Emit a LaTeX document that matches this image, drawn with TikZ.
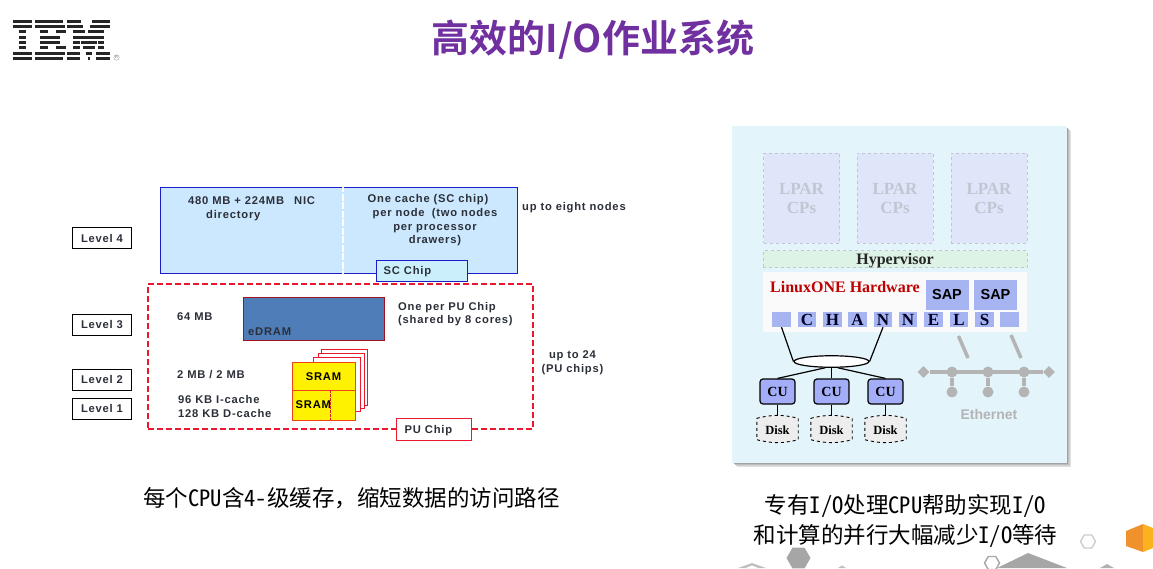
\documentclass[tikz,border=0pt]{standalone}
\usepackage{fontspec}
\setmainfont{Liberation Sans}
\newfontfamily\lblfont[LetterSpace=7]{Liberation Sans}
\newfontfamily\cjk[RawFeature=+hwid]{Noto Sans CJK SC}
\newfontfamily\cjkfull{Noto Sans CJK SC}
\newfontfamily\cjktitle[BoldFont={Noto Sans CJK SC Bold}]{Noto Sans CJK SC}
\newfontfamily\serifb{Liberation Serif}
\usetikzlibrary{shapes.geometric}
\definecolor{titlepurple}{HTML}{7030A0}
\definecolor{inktext}{HTML}{2B2F38}
\definecolor{nodeblue}{HTML}{CCE8FF}
\definecolor{nodeedge}{HTML}{1C1CC8}
\definecolor{chipred}{HTML}{E8192C}
\definecolor{edram}{HTML}{4F7DB8}
\definecolor{panelblue}{HTML}{E3F4FB}
\definecolor{lparfill}{HTML}{E0E6FA}
\definecolor{lpargray}{HTML}{C2C6D2}
\definecolor{hvfill}{HTML}{DDF3E6}
\definecolor{cellblue}{HTML}{A6B4F2}
\definecolor{cufill}{HTML}{A3ADF8}
\definecolor{ethgray}{HTML}{B4B4B4}
\definecolor{hexorange}{HTML}{F0922B}
\definecolor{hexamber}{HTML}{FBB21F}
\tikzset{
  px/.style={x=1pt,y=-1pt},
  lbl/.style={font=\lblfont\fontsize{11.2}{13.6}\selectfont\bfseries,text=inktext,inner sep=0pt},
  tagtext/.style={font=\lblfont\fontsize{11.2}{13.6}\selectfont\bfseries,text=inktext,inner sep=0pt,text height=8pt,text depth=0pt},
  levelbox/.style={tagtext,draw=black,line width=0.7pt,fill=white,minimum width=59pt,minimum height=21pt},
  lparbox/.style={draw=lpargray,dashed,fill=lparfill,line width=0.8pt,minimum width=76pt,minimum height=90pt,inner sep=0pt,align=center,text=lpargray,font=\serifb\fontsize{17}{19}\selectfont\bfseries},
  cell/.style={fill=cellblue,minimum width=18.5pt,minimum height=15pt,inner sep=0pt,font=\serifb\fontsize{17}{17}\selectfont\bfseries,text=black!85!blue},
  sapbox/.style={fill=cellblue,minimum width=43pt,minimum height=30pt,inner sep=0pt,font=\fontsize{14.5}{15}\selectfont\bfseries,text=black},
  cubox/.style={draw=black,line width=1.2pt,rounded corners=3pt,fill=cufill,minimum width=35pt,minimum height=25pt,inner sep=0pt,font=\serifb\fontsize{14}{14}\selectfont\bfseries},
  diskframe/.style={minimum width=41pt,minimum height=21pt,inner sep=0pt},
  disktext/.style={inner sep=0pt,font=\serifb\fontsize{12.5}{12.5}\selectfont\bfseries},
  diskedge/.style={draw=black,dashed,line width=0.9pt,fill=black!7},
  busline/.style={draw=black,line width=1.2pt},
  ethline/.style={draw=ethgray,line width=3.3pt},
  ethdiamond/.style={diamond,fill=ethgray,minimum size=12pt,inner sep=0pt},
  ethdot/.style={circle,fill=ethgray,minimum size=11pt,inner sep=0pt},
  caption/.style={font=\cjk\fontsize{22.5}{30}\selectfont,text=black,align=center,inner sep=0pt},
  sramedge/.style={draw=chipred,line width=0.7pt,fill=white,inner sep=0pt},
  hexa/.style={regular polygon,regular polygon sides=6,inner sep=0pt},
}
\begin{document}
\begin{tikzpicture}[px]
\useasboundingbox (0,0) rectangle (1153,568);

% logo: eight horizontal bars cut into letter segments
\def\barrow#1#2{\foreach \a/\b in {#2}{\fill[black!85] (\a,{21+5.35*#1-1.5}) rectangle (\b,{21+5.35*#1+1.5});}}
\barrow{0}{13/32,35/63,67/81,92/110}
\barrow{1}{13/32,35/65,67/83,90/110}
\barrow{2}{19/26,40/48,56/66,73/85,88/104}
\barrow{3}{19/26,40/60,73/104}
\barrow{4}{19/26,40/60,73/80,81/97,98/104}
\barrow{5}{19/26,40/48,56/66,73/80,83/95,98/104}
\barrow{6}{13/32,35/65,67/80,86/92,96/110}
\barrow{7}{13/32,35/63,67/80,88/90,96/110}
\node[draw=black!45,circle,line width=0.3pt,inner sep=0pt,minimum size=5.5pt,font=\fontsize{4}{4}\selectfont,text=black!60] (reg) at (116.5,57.5) {R};

% heading
\node[inner sep=0pt,text=titlepurple,font=\cjktitle\fontsize{38}{42}\selectfont\bfseries] (title) at (593,40) {高效的I/O作业系统};

% cache hierarchy: level 4 node cache
\node[draw=nodeedge,line width=0.9pt,fill=nodeblue,minimum width=357pt,minimum height=86pt,inner sep=0pt] (l4) at (338.5,230) {};
\coordinate (gapT) at (343,185);
\coordinate (gapB) at (343,275);
\draw[white,line width=2.2pt,dash pattern=on 7pt off 1.5pt] (gapT) -- (gapB);
\node[lbl,align=left,anchor=north west] (dir) at (188,196.5) {480 MB + 224MB\hspace{0.9em}NIC\\\hspace*{18pt}directory};
\node[lbl,align=center,anchor=north] (sccache) at (435,194.5) {One cache (SC chip)\hspace*{14pt}\\per node\hspace{0.3em} (two nodes\\per processor\\drawers)};
\node[tagtext,draw=nodeedge,line width=0.9pt,fill=cyan!20,minimum width=91pt,minimum height=21pt] (sc) at (422,270.5) {\hspace{-2.6em}SC Chip};
\node[lbl,anchor=west] (eight) at (522,207.5) {up to eight nodes};

% processor chip group
\node[draw=chipred,dashed,line width=1.1pt,dash pattern=on 6pt off 3pt,minimum width=385pt,minimum height=145pt,inner sep=0pt] (pu) at (340.5,356.5) {};
\node[tagtext,draw=chipred,line width=0.9pt,fill=white,minimum width=75pt,minimum height=22pt] (puchip) at (433.5,429) {\hspace{-0.9em}PU Chip};
\node[draw=chipred!70!black,line width=0.9pt,fill=edram,minimum width=141pt,minimum height=43pt,inner sep=0pt] (ed) at (313.5,318.5) {};
\node[lbl,anchor=south west] (edt) at (248,335.5) {eDRAM};
\node[lbl,anchor=west] (m64) at (177,316.5) {64 MB};
\node[lbl,align=left,anchor=west] (perpu) at (398,314) {One per PU Chip\\(shared by 8 cores)};
\node[lbl,align=center] (pu24) at (572.5,363) {up to 24\\(PU chips)};
\node[lbl,anchor=west] (m2) at (177,375) {2 MB / 2 MB};
\node[lbl,align=left,anchor=west] (kb) at (178,406.5) {96 KB I-cache\\128 KB D-cache};

% stacked SRAM sheets behind the front one
\node[sramedge,minimum width=45.5pt,minimum height=56pt] (sheet3) at (344.5,377) {};
\node[sramedge,minimum width=46pt,minimum height=55pt] (sheet2) at (341,380.5) {};
\node[sramedge,minimum width=47pt,minimum height=54pt] (sheet1) at (336.5,384) {};
\node[tagtext,text=black,draw=chipred!60!orange,line width=0.9pt,fill=yellow,minimum width=63pt,minimum height=28pt] (sram2) at (323.5,376) {SRAM};
\node[draw=chipred!60!orange,line width=0.9pt,fill=yellow,minimum width=63pt,minimum height=30pt,inner sep=0pt] (sram1) at (323.5,405) {};
\node[lbl,anchor=west,text=black] (sram1t) at (295.5,404.5) {SRAM};
\draw[chipred,line width=1pt,dash pattern=on 3pt off 1pt] (sram1.north -| 330,0) -- (sram1.south -| 330,0);

% level tags
\node[levelbox] (lv4) at (102,238) {Level 4};
\node[levelbox] (lv3) at (102,324.5) {Level 3};
\node[levelbox] (lv2) at (102,379.5) {Level 2};
\node[levelbox] (lv1) at (102,408.5) {Level 1};

\node[caption] (capL) at (351.5,498) {每个CPU含4-级缓存{\cjkfull ，}缩短数据的访问路径};

% I/O subsystem panel with a soft drop shadow
\foreach \o/\k in {4.5/12,3.5/18,2.5/26,1.5/36}{
  \fill[black!\k] ({732+\o},{126+\o}) rectangle ({1066+\o},{462+\o});
}
\node[fill=panelblue,minimum width=335pt,minimum height=337pt,inner sep=0pt] (panel) at (899.5,294.5) {};

\node[lparbox] (lp1) at (801.5,198) {LPAR\\CPs};
\node[lparbox] (lp2) at (895,198) {LPAR\\CPs};
\node[lparbox] (lp3) at (989,198) {LPAR\\CPs};
\node[draw=lpargray,dashed,line width=0.8pt,fill=hvfill,minimum width=264pt,minimum height=17pt,inner sep=0pt,font=\serifb\fontsize{16}{16}\selectfont\bfseries,text=black!85,text height=10pt,text depth=0pt] (hv) at (895,259) {Hypervisor};
\node[fill=black!2,minimum width=264pt,minimum height=60pt,inner sep=0pt] (hw) at (895,302) {};
\node[inner sep=0pt,anchor=west,text=red!75!black,font=\serifb\fontsize{16}{16}\selectfont\bfseries] (hwt) at (770,287) {LinuxONE Hardware};
\node[sapbox] (sap1) at (947,295) {SAP};
\node[sapbox] (sap2) at (995.5,295) {SAP};
\node[cell] (c0) at (781.5,319.5) {};
\node[cell] (c1) at (807,319.5) {C};
\node[cell] (c2) at (832.5,319.5) {H};
\node[cell] (c3) at (857.5,319.5) {A};
\node[cell] (c4) at (883,319.5) {N};
\node[cell] (c5) at (908,319.5) {N};
\node[cell] (c6) at (933.5,319.5) {E};
\node[cell] (c7) at (959,319.5) {L};
\node[cell] (c8) at (984.5,319.5) {S};
\node[cell] (c9) at (1009.5,319.5) {};

% channel subsystem switch, control units and disks
\node[draw=black,line width=1.2pt,fill=white,ellipse,minimum width=75pt,minimum height=11.5pt,inner sep=0pt] (sw) at (831.5,361.5) {};
\node[cubox] (cu1) at (777.5,391.5) {CU};
\node[cubox] (cu2) at (831.5,391.5) {CU};
\node[cubox] (cu3) at (885.5,391.5) {CU};
\foreach \n/\x in {1/777.5,2/831.5,3/885.5}{
  \node[diskframe] (d\n) at (\x,429) {};
  \draw[diskedge] (d\n.north west) to[bend left=14] (d\n.north east) -- (d\n.south east) to[bend left=14] (d\n.south west) -- cycle;
  \node[disktext] (dt\n) at (\x,430.5) {Disk};
}
\draw[busline] (c0.south) -- (sw.west);
\draw[busline] (c4.south) -- (sw.east);
\draw[busline] (sw.225) -- (cu1.north);
\draw[busline] (sw.south) -- (cu2.north);
\draw[busline] (sw.315) -- (cu3.north);
\draw[busline] (cu1.south) -- ([yshift=2pt]d1.north);
\draw[busline] (cu2.south) -- ([yshift=2pt]d2.north);
\draw[busline] (cu3.south) -- ([yshift=2pt]d3.north);

% LAN attachment
\node[ethdiamond] (eL) at (923.5,372) {};
\node[ethdiamond] (eR) at (1049,372) {};
\draw[ethline] (eL) -- (eR);
\foreach \n/\x in {a/952,b/988,c/1024}{
  \node[ethdot] (j\n) at (\x,372) {};
  \node[ethdot] (t\n) at (\x,392) {};
  \draw[ethline] (j\n) -- (t\n);
}
\coordinate (s1a) at (958.5,336);
\coordinate (s1b) at (968,358);
\coordinate (s2a) at (1011,335);
\coordinate (s2b) at (1021,358);
\draw[ethgray,line width=3.5pt] (s1a) -- (s1b);
\draw[ethgray,line width=3.5pt] (s2a) -- (s2b);
\node[inner sep=0pt,text=ethgray,font=\fontsize{14}{14}\selectfont\bfseries] (eth) at (989,414) {Ethernet};

\node[caption] (capR) at (905.5,521) {专有I/O处理CPU帮助实现I/O\\和计算的并行大幅减少I/O等待};

% ornamental hexagons along the lower edge
\begin{scope}
\clip (0,0) rectangle (1153,568);
\fill[hexorange] (1126,531) -- (1143,524) -- (1143,552) -- (1126,546) -- cycle;
\fill[hexamber] (1143,524) -- (1153,528) -- (1153,548) -- (1143,552) -- cycle;
\node[hexa,shape border rotate=0,draw=black!20,line width=1.4pt,minimum size=15pt] (hx2) at (1088,541.5) {};
\node[hexa,shape border rotate=0,fill=black!35,minimum size=24pt] (hx3) at (798.5,558) {};
\node[hexa,shape border rotate=0,draw=black!35,line width=1.4pt,minimum size=15pt] (hx4) at (992,563) {};
\fill[black!35] (997,568) -- (1028,553) -- (1067,568) -- cycle;
\fill[black!25] (738,568) -- (752,563) -- (766,568) -- cycle;
\fill[white] (746,568) -- (752,565.5) -- (758,568) -- cycle;
\fill[black!25] (838,568) -- (842,565.5) -- (846,568) -- cycle;
\fill[black!30] (1100,568) -- (1107,564) -- (1114,568) -- cycle;
\end{scope}
\end{tikzpicture}
\end{document}
